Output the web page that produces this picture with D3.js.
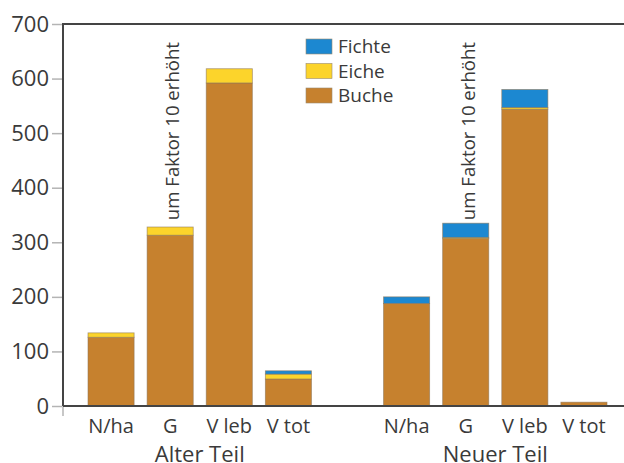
<!DOCTYPE html>
<html>
<head>
<meta charset="utf-8">
<script src="https://cdn.jsdelivr.net/npm/d3@7"></script>
<style>
  body { margin: 0; background: #fff; }
  text { font-family: "Open Sans", sans-serif; fill: #3a3a3a; }
</style>
</head>
<body>
<script>

// categories and groups
var categories = ["N/ha", "G", "V leb", "V tot"];
var groups = ["Alter Teil", "Neuer Teil"];

// stacked values, alter teil first then neuer teil
var buche  = [126, 313, 592, 49.5, 188, 307, 544, 7];
var eiche  = [8, 15, 26, 9, 0, 2, 3, 0];
var fichte = [0, 0, 0, 6, 12, 26, 33, 0];

var yTicks = [0, 100, 200, 300, 400, 500, 600, 700];
var note = "um Faktor 10 erhöht";

var series = ["Buche", "Eiche", "Fichte"];
var colors = { Buche: "#c6812e", Eiche: "#fcd42b", Fichte: "#1c88d1" };

var width = 624, height = 463;
// note: "top" clashes with window.top, so use other names
var plotLeft = 63, plotTop = 24, plotBottom = 406;

var svg = d3.select("body").append("svg")
    .attr("width", width)
    .attr("height", height);

// slots: 4 bars, a gap of one slot, 4 bars
var slots = [];
groups.forEach(function(g, gi) {
  categories.forEach(function(c) { slots.push(gi + "|" + c); });
  if (gi == 0) slots.push("gap");
});

var x = d3.scaleBand()
    .domain(slots)
    .range([81.5, 613.5])
    .paddingInner(0.22)
    .paddingOuter(0.11);

var y = d3.scaleLinear()
    .domain([0, 700])
    .range([plotBottom, plotTop]);

// build rows for the stack
var rows = [];
groups.forEach(function(g, gi) {
  categories.forEach(function(c, ci) {
    var i = gi * categories.length + ci;
    rows.push({ key: gi + "|" + c, cat: c, Buche: buche[i], Eiche: eiche[i], Fichte: fichte[i] });
  });
});

var stacked = d3.stack().keys(series)(rows);

// y ticks (outside the frame)
var yAxis = svg.append("g")
    .attr("transform", "translate(" + (plotLeft - 1) + ",0)")
    .call(d3.axisLeft(y).tickValues(yTicks).tickSize(10).tickPadding(3));
yAxis.select(".domain").remove();
yAxis.selectAll("line").attr("stroke", "#b4b4b4").attr("stroke-width", 1.5);
yAxis.selectAll("text")
    .style("font-size", "22px")
    .style("font-family", "'Open Sans', sans-serif")
    .attr("fill", "#3a3a3a");

// small tick below the origin
svg.append("line")
    .attr("x1", plotLeft).attr("x2", plotLeft)
    .attr("y1", plotBottom).attr("y2", plotBottom + 10)
    .attr("stroke", "#b4b4b4").attr("stroke-width", 1.5);

// bars
svg.append("g")
  .selectAll("g")
  .data(stacked)
  .enter().append("g")
    .attr("fill", function(d) { return colors[d.key]; })
  .selectAll("rect")
  .data(function(d) { return d.filter(function(s) { return s[1] - s[0] > 0; }); })
  .enter().append("rect")
    .attr("x", function(d) { return x(d.data.key); })
    .attr("width", x.bandwidth())
    .attr("y", function(d) { return y(d[1]); })
    .attr("height", function(d) { return y(d[0]) - y(d[1]); })
    .attr("stroke", "#8f7658")
    .attr("stroke-width", 0.8)
    .attr("stroke-opacity", 0.7);

// frame: top and left, plus baseline
svg.append("path")
    .attr("d", "M" + plotLeft + "," + plotBottom + "V" + plotTop + "H" + width)
    .attr("fill", "none")
    .attr("stroke", "#444")
    .attr("stroke-width", 2);
svg.append("line")
    .attr("x1", plotLeft).attr("x2", width)
    .attr("y1", plotBottom).attr("y2", plotBottom)
    .attr("stroke", "#444")
    .attr("stroke-width", 2);

// category labels
svg.append("g")
  .selectAll("text")
  .data(rows)
  .enter().append("text")
    .attr("x", function(d) { return x(d.key) + x.bandwidth() / 2; })
    .attr("y", 433)
    .attr("text-anchor", "middle")
    .style("font-size", "20px")
    .text(function(d) { return d.cat; });

// group labels (cut at the bottom edge, like the original)
svg.append("g")
  .selectAll("text")
  .data(groups)
  .enter().append("text")
    .attr("x", function(d, gi) {
      var a = x(gi + "|" + categories[0]);
      var b = x(gi + "|" + categories[categories.length - 1]) + x.bandwidth();
      return (a + b) / 2;
    })
    .attr("y", 462)
    .attr("text-anchor", "middle")
    .style("font-size", "22px")
    .text(function(d) { return d; });

// rotated notes above the G bars
groups.forEach(function(g, gi) {
  var cx = x(gi + "|G") + x.bandwidth() / 2;
  svg.append("text")
    .attr("transform", "translate(" + (cx + 9) + ",42) rotate(-90)")
    .attr("text-anchor", "end")
    .style("font-size", "18.6px")
    .text(note);
});

// legend
var legend = svg.append("g")
    .attr("transform", "translate(306,39)");
var legendKeys = ["Fichte", "Eiche", "Buche"];
var item = legend.selectAll("g")
    .data(legendKeys)
  .enter().append("g")
    .attr("transform", function(d, i) { return "translate(0," + (i * 24.5) + ")"; });
item.append("rect")
    .attr("width", 26)
    .attr("height", 15)
    .attr("fill", function(d) { return colors[d]; })
    .attr("stroke", "#9a8a70")
    .attr("stroke-width", 0.6);
item.append("text")
    .attr("x", 32)
    .attr("y", 14)
    .style("font-size", "19px")
    .text(function(d) { return d; });

</script>
</body>
</html>
